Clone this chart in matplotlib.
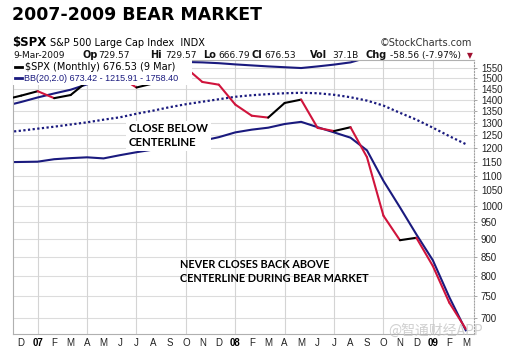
import numpy as np
import matplotlib.pyplot as plt
from matplotlib.lines import Line2D
from matplotlib.patches import Rectangle
from matplotlib.ticker import FixedLocator, FixedFormatter, NullLocator

# monthly data, Nov 2006 .. Mar 2009 (Nov 2006 sits just left of the frame)
months = ['N', 'D', '07', 'F', 'M', 'A', 'M', 'J', 'J', 'A', 'S', 'O', 'N',
          'D', '08', 'F', 'M', 'A', 'M', 'J', 'J', 'A', 'S', 'O', 'N', 'D',
          '09', 'F', 'M']
close = [1400.63, 1418.30, 1438.24, 1406.82, 1420.86, 1482.37, 1530.62,
         1503.35, 1455.27, 1473.99, 1526.75, 1549.38, 1481.14, 1468.36,
         1378.55, 1330.63, 1322.70, 1385.59, 1400.38, 1280.00, 1267.38,
         1282.83, 1166.36, 968.75, 896.24, 903.25, 825.88, 735.09, 676.53]
bb_upper = [1372, 1390, 1410, 1428, 1445, 1470, 1500, 1530, 1550, 1570,
            1590, 1578, 1576, 1572, 1566, 1561, 1556, 1552, 1548, 1556,
            1565, 1576, 1600, 1680, 1720, 1735, 1745, 1752, 1758.40]
bb_mid = [1262, 1269, 1277, 1285, 1294, 1303, 1314, 1324, 1339, 1352,
          1367, 1380, 1391, 1402, 1413, 1420, 1425, 1429, 1431, 1429,
          1422, 1411, 1396, 1374, 1343, 1314, 1281, 1247, 1215.91]
bb_lower = [1148, 1149, 1150, 1159, 1163, 1166, 1162, 1174, 1185, 1195,
            1206, 1218, 1229, 1243, 1262, 1273, 1281, 1296, 1305, 1283,
            1262, 1241, 1192, 1082, 995, 913, 841, 748, 673.42]
y_ticks = list(range(700, 1551, 50))
grid_months = [2, 5, 8, 11, 14, 17, 20, 23, 26]

W, H = 506, 352
RED = '#d0143c'
NAVY = '#1a1a7e'


def fx(px):
    return px / W


def fy(py):
    return 1 - py / H


fig = plt.figure(figsize=(W / 100, H / 100), dpi=100, facecolor='white')
ax = fig.add_axes([fx(13), fy(334), fx(474) - fx(13), fy(60) - fy(334)])

x = np.arange(len(months))

# grid
ax.set_yscale('log')
ax.set_ylim(665.5, 1588)
ax.set_xlim(0.5, len(months) - 0.5)
for v in y_ticks:
    ax.axhline(v, color='#dcdcdc', lw=0.8, zorder=0)
for m in grid_months:
    ax.axvline(m, color='#d4d4d4', lw=0.8, zorder=0)

# bollinger bands
ax.plot(x, bb_upper, color=NAVY, lw=1.5, zorder=2)
ax.plot(x, bb_lower, color=NAVY, lw=1.5, zorder=2)
ax.plot(x, bb_mid, color=NAVY, lw=1.6, ls=(0, (1, 1.1)), zorder=2)

# close: black when up, red when down
for i in range(len(close) - 1):
    c = 'black' if close[i + 1] >= close[i] else RED
    ax.plot(x[i:i + 2], close[i:i + 2], color=c, lw=1.5, zorder=3,
            solid_capstyle='round')

# axes styling
ax.yaxis.tick_right()
ax.yaxis.set_major_locator(FixedLocator(y_ticks))
ax.yaxis.set_major_formatter(FixedFormatter([str(v) for v in y_ticks]))
ax.yaxis.set_minor_locator(NullLocator())
ax.tick_params(axis='y', which='major', length=2, width=0.6, color='#999999',
               pad=3, labelsize=7, labelcolor='#222222')
# only the months inside the frame get a label
ax.set_xticks(x[1:])
ax.set_xticklabels(months[1:])
ax.tick_params(axis='x', length=0, pad=3, labelsize=7, labelcolor='#222222')
for lab in ax.get_xticklabels():
    lab.set_fontfamily('Liberation Sans')
    if lab.get_text().isdigit():
        lab.set_fontweight('bold')
        lab.set_color('black')
for lab in ax.get_yticklabels():
    lab.set_fontfamily('Liberation Sans')
for s in ['left', 'bottom', 'top']:
    ax.spines[s].set_color('#b0b0b0')
    ax.spines[s].set_linewidth(0.8)
ax.spines['right'].set_color('#a0a0a0')
ax.spines['right'].set_linestyle(':')
ax.spines['right'].set_linewidth(0.8)

# legend box inside the plot
ax.add_patch(Rectangle((0, (334 - 85) / 274), (192 - 13) / 461, 1,
                       transform=ax.transAxes, facecolor='white',
                       edgecolor='none', zorder=5, clip_on=True))
fig.add_artist(Line2D([fx(15), fx(22)], [fy(66.5), fy(66.5)], color='black', lw=2))
fig.text(fx(25), fy(70), '$SPX (Monthly) 676.53 (9 Mar)', fontsize=7,
         color='black', zorder=6)
fig.add_artist(Line2D([fx(15), fx(22)], [fy(77.5), fy(77.5)], color=NAVY, lw=2))
fig.text(fx(24), fy(81), 'BB(20,2.0) 673.42 - 1215.91 - 1758.40', fontsize=6.5,
         family='Liberation Sans', color=NAVY, zorder=6)

# annotations
ax.text(7.55, 1249, 'CLOSE BELOW\nCENTERLINE', family='Lato', fontweight='bold',
        fontsize=8.2, ha='left', va='center', linespacing=1.3, zorder=6,
        bbox=dict(facecolor='white', edgecolor='none', pad=2))
ax.text(10.65, 811, 'NEVER CLOSES BACK ABOVE\nCENTERLINE DURING BEAR MARKET',
        family='Lato', fontweight='bold', fontsize=7.8, ha='left', va='center',
        linespacing=1.35, zorder=6)

# header
fig.text(fx(12), fy(20), '2007-2009 BEAR MARKET', fontsize=12.5,
         fontweight='bold', color='black')
fig.text(fx(12), fy(46), '$SPX', fontsize=8.5, fontweight='bold')
fig.text(fx(50), fy(46), 'S&P 500 Large Cap Index  INDX', fontsize=7)
fig.text(fx(472), fy(46), '\u00a9StockCharts.com', fontsize=7, ha='right',
         color='#333333')
row = [(13, '9-Mar-2009', False), (83, 'Op', True), (98, '729.57', False),
       (150, 'Hi', True), (165, '729.57', False), (203, 'Lo', True),
       (218, '666.79', False), (252, 'Cl', True), (264, '676.53', False),
       (310, 'Vol', True), (332, '37.1B', False), (365, 'Chg', True),
       (390, '-58.56 (-7.97%)', False)]
for px, txt, bold in row:
    fig.text(fx(px), fy(58), txt, fontsize=7 if bold else 6.5,
             fontweight='bold' if bold else 'normal', color='#111111')
fig.text(fx(467), fy(58), '\u25bc', fontsize=5.5, color='#a01030')

# watermark
fig.text(fx(388), fy(334.5), '@智通财经APP',
         family=['Noto Sans CJK SC', 'DejaVu Sans'], fontsize=10,
         color='#c4c4c4', alpha=0.8, zorder=10)

fig.savefig('out.png', dpi=100, facecolor='white')
